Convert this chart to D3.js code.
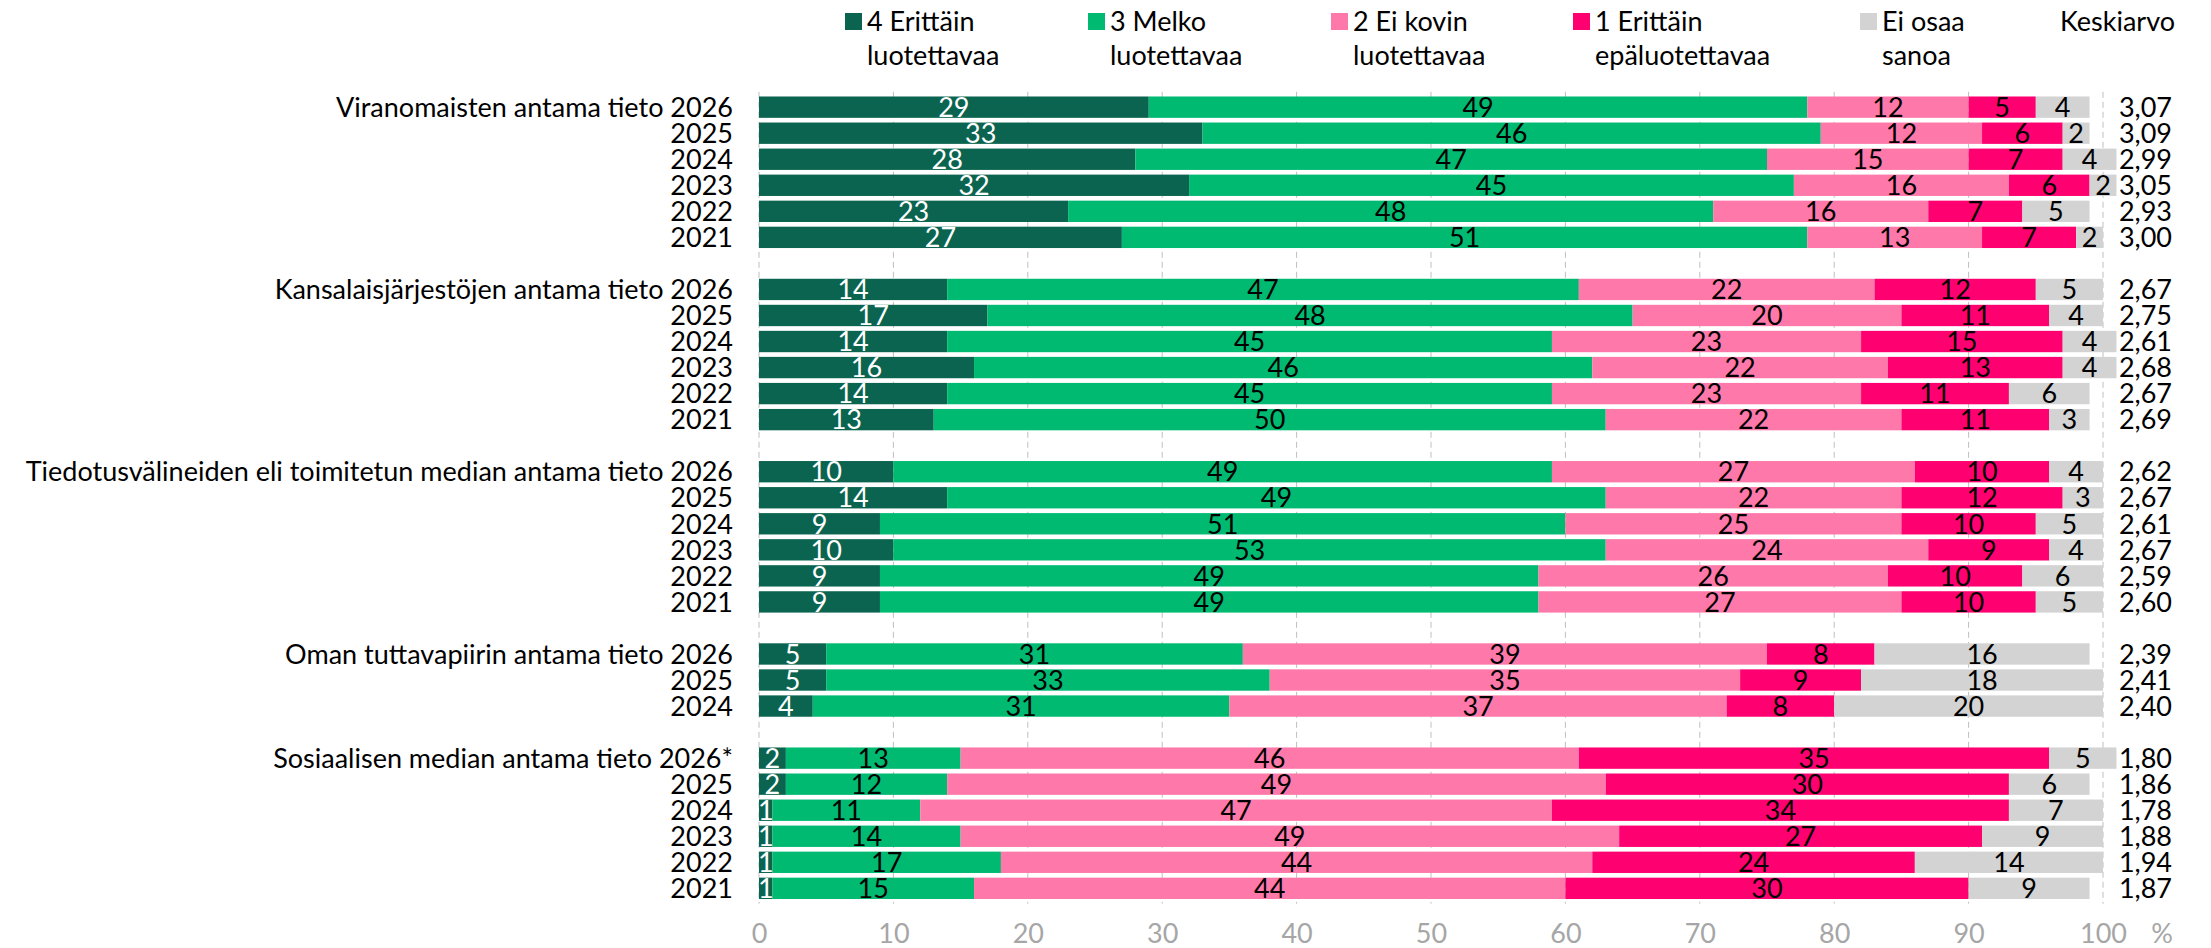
<!DOCTYPE html>
<html>
<head>
<meta charset="utf-8">
<script src="https://cdn.jsdelivr.net/npm/d3@7"></script>
<style>
  html, body { margin: 0; padding: 0; background: #ffffff; }
  svg { display: block; }
  text { font-family: Lato, "Liberation Sans", sans-serif; }
</style>
</head>
<body>
<svg id="chart" width="2211" height="948"></svg>
<script>
// Row labels, top to bottom (the first row of each block carries the block name)
const rowLabels = [
  "Viranomaisten antama tieto 2026", "2025", "2024", "2023", "2022", "2021",
  "Kansalaisjärjestöjen antama tieto 2026", "2025", "2024", "2023", "2022", "2021",
  "Tiedotusvälineiden eli toimitetun median antama tieto 2026", "2025", "2024", "2023", "2022", "2021",
  "Oman tuttavapiirin antama tieto 2026", "2025", "2024",
  "Sosiaalisen median antama tieto 2026*", "2025", "2024", "2023", "2022", "2021"
];
// Number of rows in each block
const blockSizes = [6, 6, 6, 3, 6];

// Shares (%) per answer option, same row order as rowLabels
const veryReliable    = [29, 33, 28, 32, 23, 27, 14, 17, 14, 16, 14, 13, 10, 14, 9, 10, 9, 9, 5, 5, 4, 2, 2, 1, 1, 1, 1];
const fairlyReliable  = [49, 46, 47, 45, 48, 51, 47, 48, 45, 46, 45, 50, 49, 49, 51, 53, 49, 49, 31, 33, 31, 13, 12, 11, 14, 17, 15];
const notVeryReliable = [12, 12, 15, 16, 16, 13, 22, 20, 23, 22, 23, 22, 27, 22, 25, 24, 26, 27, 39, 35, 37, 46, 49, 47, 49, 44, 44];
const notAtAll        = [5, 6, 7, 6, 7, 7, 12, 11, 15, 13, 11, 11, 10, 12, 10, 9, 10, 10, 8, 9, 8, 35, 30, 34, 27, 24, 30];
const cantSay         = [4, 2, 4, 2, 5, 2, 5, 4, 4, 4, 6, 3, 4, 3, 5, 4, 6, 5, 16, 18, 20, 5, 6, 7, 9, 14, 9];
// Mean score (scale 1–4)
const means = ["3,07", "3,09", "2,99", "3,05", "2,93", "3,00", "2,67", "2,75", "2,61", "2,68", "2,67", "2,69",
               "2,62", "2,67", "2,61", "2,67", "2,59", "2,60", "2,39", "2,41", "2,40",
               "1,80", "1,86", "1,78", "1,88", "1,94", "1,87"];

const seriesNames = [["4 Erittäin", "luotettavaa"], ["3 Melko", "luotettavaa"], ["2 Ei kovin", "luotettavaa"],
                     ["1 Erittäin", "epäluotettavaa"], ["Ei osaa", "sanoa"]];
const seriesColors = ["#0b6450", "#00ba72", "#ff78aa", "#ff0070", "#d3d3d3"];
const seriesText = ["#ffffff", "#000000", "#000000", "#000000", "#000000"];
const xTicks = [0, 10, 20, 30, 40, 50, 60, 70, 80, 90, 100];
const meanTitle = "Keskiarvo";

const series = [veryReliable, fairlyReliable, notVeryReliable, notAtAll, cantSay];
const FONT = 27;

const svg = d3.select("#chart");

// Slots: one per row, with an empty slot between blocks
const slots = [];
const rowKeys = rowLabels.map((_, i) => "r" + i);
let idx = 0;
blockSizes.forEach((n, b) => {
  if (b > 0) slots.push("gap" + b);
  for (let k = 0; k < n; k++) slots.push(rowKeys[idx++]);
});

const x = d3.scaleLinear().domain([0, 100]).range([759, 2103]);
const y = d3.scaleBand().domain(slots).range([91.8, 903.7]).padding(0.18);

// Dashed vertical gridlines
svg.append("g")
  .selectAll("line")
  .data(xTicks)
  .join("line")
  .attr("x1", d => x(d)).attr("x2", d => x(d))
  .attr("y1", y.range()[0]).attr("y2", y.range()[1])
  .attr("stroke", "#bfbfbf")
  .attr("stroke-width", 1)
  .attr("stroke-dasharray", "6,4");

// Stacked segments
const rows = rowLabels.map((label, i) => {
  let acc = 0;
  const segs = series.map((s, j) => {
    const seg = { j, x0: acc, x1: acc + s[i], v: s[i] };
    acc += s[i];
    return seg;
  });
  return { key: rowKeys[i], label, segs, mean: means[i] };
});

const rowG = svg.append("g")
  .selectAll("g")
  .data(rows)
  .join("g")
  .attr("transform", d => `translate(0,${y(d.key)})`);

rowG.selectAll("rect")
  .data(d => d.segs)
  .join("rect")
  .attr("x", d => x(d.x0))
  .attr("width", d => x(d.x1) - x(d.x0))
  .attr("y", 0)
  .attr("height", y.bandwidth())
  .attr("fill", d => seriesColors[d.j]);

rowG.selectAll("text.val")
  .data(d => d.segs)
  .join("text")
  .attr("class", "val")
  .attr("x", d => (x(d.x0) + x(d.x1)) / 2)
  .attr("y", y.bandwidth() / 2)
  .attr("dy", "0.36em")
  .attr("text-anchor", "middle")
  .attr("font-size", FONT)
  .attr("fill", d => seriesText[d.j])
  .text(d => d.v);

// Row labels on the left
rowG.append("text")
  .attr("x", 733)
  .attr("y", y.bandwidth() / 2)
  .attr("dy", "0.36em")
  .attr("text-anchor", "end")
  .attr("font-size", FONT)
  .attr("fill", "#000")
  .text(d => d.label);

// Mean values on the right
rowG.append("text")
  .attr("x", 2172)
  .attr("y", y.bandwidth() / 2)
  .attr("dy", "0.36em")
  .attr("text-anchor", "end")
  .attr("font-size", FONT)
  .attr("fill", "#000")
  .text(d => d.mean);

// Bottom axis labels
const axis = d3.axisBottom(x).tickValues(xTicks).tickSize(0).tickPadding(0);
const axG = svg.append("g").attr("transform", "translate(0,924)").call(axis);
axG.select(".domain").remove();
axG.selectAll("text")
  .attr("font-size", FONT)
  .attr("font-family", "Lato, 'Liberation Sans', sans-serif")
  .attr("fill", "#a6a6a6");
svg.append("text")
  .attr("x", 2162).attr("y", 943)
  .attr("text-anchor", "middle")
  .attr("font-size", FONT)
  .attr("fill", "#a6a6a6")
  .text("%");

// Legend
const legendX = [845, 1088, 1331, 1573, 1860];
const lg = svg.append("g")
  .selectAll("g")
  .data(seriesNames)
  .join("g")
  .attr("transform", (d, i) => `translate(${legendX[i]},0)`);
lg.append("rect")
  .attr("x", 0).attr("y", 13)
  .attr("width", 17).attr("height", 17)
  .attr("fill", (d, i) => seriesColors[i]);
lg.append("text")
  .attr("x", 22).attr("y", 31)
  .attr("font-size", FONT)
  .attr("fill", "#000")
  .text(d => d[0]);
lg.append("text")
  .attr("x", 22).attr("y", 65)
  .attr("font-size", FONT)
  .attr("fill", "#000")
  .text(d => d[1]);

svg.append("text")
  .attr("x", 2175).attr("y", 31)
  .attr("text-anchor", "end")
  .attr("font-size", FONT)
  .attr("fill", "#000")
  .text(meanTitle);
</script>
</body>
</html>
